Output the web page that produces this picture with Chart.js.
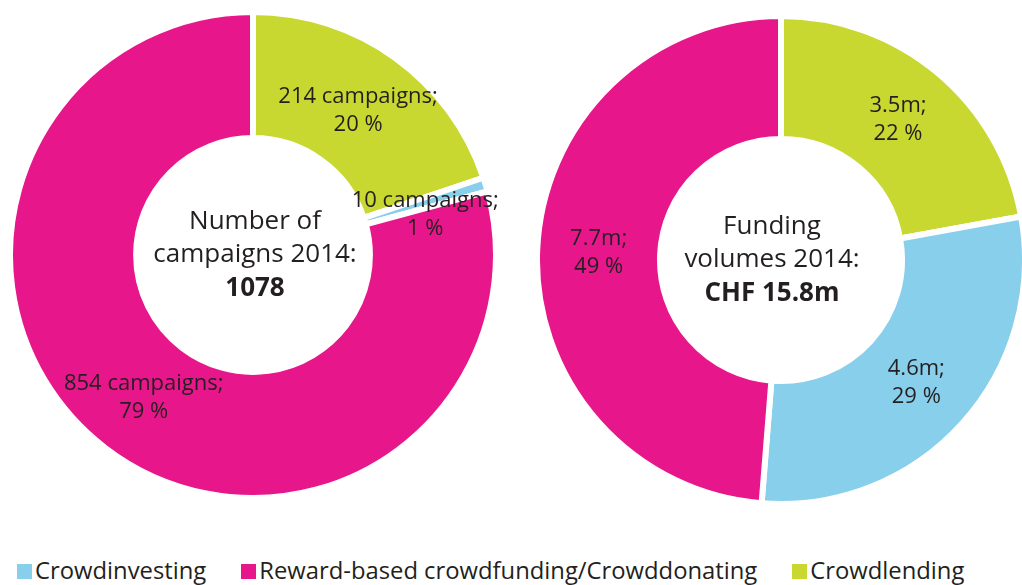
<!DOCTYPE html>
<html>
<head>
<meta charset="utf-8">
<script src="https://cdn.jsdelivr.net/npm/chart.js@4.4.1/dist/chart.umd.min.js"></script>
<style>
  html, body { margin: 0; padding: 0; background: #fff; overflow: hidden; }
  body { width: 1022px; height: 585px; position: relative; font-family: 'Open Sans', sans-serif; }
  #left { position: absolute; left: 7px; top: 9px; }
  #right { position: absolute; left: 534px; top: 13px; }
  #legend { position: absolute; left: 17px; top: 554px; display: flex; gap: 35px; color: #231f20; font-size: 23.8px; }
  #legend span.item { display: flex; align-items: center; white-space: nowrap; }
  #legend span.box { width: 15px; height: 15px; margin-right: 3px; margin-top: 3px; }
</style>
</head>
<body>
<canvas id="left" width="492" height="492"></canvas>
<canvas id="right" width="494" height="494"></canvas>
<div id="legend"></div>
<script>
// slices go clockwise from 12 o'clock in this order
const sliceNames = ['Crowdlending', 'Crowdinvesting', 'Reward-based crowdfunding/Crowddonating'];
const legendNames = ['Crowdinvesting', 'Reward-based crowdfunding/Crowddonating', 'Crowdlending'];

const campaigns = [214, 10, 854];
const campaignShares = [20, 1, 79];
const volumes = [3.5, 4.6, 7.7];
const volumeShares = [22, 29, 49];

const leftCenter = ['Number of', 'campaigns 2014:', '1078'];
const rightCenter = ['Funding', 'volumes 2014:', 'CHF 15.8m'];

const colors = {
  'Crowdinvesting': '#88cfec',
  'Reward-based crowdfunding/Crowddonating': '#e7168a',
  'Crowdlending': '#c9d831'
};
const textColor = '#231f20';

const sliceLabels = {
  id: 'sliceLabels',
  afterDatasetsDraw(chart, args, opts) {
    const ctx = chart.ctx;
    const meta = chart.getDatasetMeta(0);
    ctx.save();
    ctx.fillStyle = textColor;
    ctx.textAlign = 'center';
    ctx.textBaseline = 'middle';
    ctx.font = '22px "Open Sans"';
    meta.data.forEach((arc, i) => {
      const p = arc.getCenterPoint();
      const lines = opts.lines(i);
      const dy = (opts.dy && opts.dy[i]) || 0;
      ctx.fillText(lines[0], p.x, p.y - 14 + dy);
      ctx.fillText(lines[1], p.x, p.y + 14 + dy);
    });

    // text in the hole
    const c = meta.data[0];
    const cx = c.x + (opts.centerDx || 0);
    const cy = c.y;
    const t = opts.center;
    ctx.font = '26px "Open Sans"';
    ctx.fillText(t[0], cx, cy - 33);
    ctx.fillText(t[1], cx, cy);
    ctx.font = 'bold 26px "Open Sans"';
    ctx.fillText(t[2], cx, cy + 34);
    ctx.restore();
  }
};

function makeChart(id, values, cutout, labelPlugin) {
  return new Chart(document.getElementById(id), {
    type: 'doughnut',
    data: {
      labels: sliceNames,
      datasets: [{
        data: values,
        backgroundColor: sliceNames.map(n => colors[n]),
        borderColor: '#ffffff',
        borderWidth: 6,
        hoverOffset: 0
      }]
    },
    options: {
      responsive: false,
      animation: false,
      cutout: cutout,
      layout: { padding: 0 },
      plugins: {
        legend: { display: false },
        tooltip: { enabled: false },
        sliceLabels: labelPlugin
      }
    },
    plugins: [sliceLabels]
  });
}

makeChart('left', campaigns, '48.1%', {
  lines: i => [campaigns[i] + ' campaigns;', campaignShares[i] + ' %'],
  dy: [2, 12, 0],
  center: leftCenter,
  centerDx: 2
});

makeChart('right', volumes, '49.6%', {
  lines: i => [volumes[i] + 'm;', volumeShares[i] + ' %'],
  center: rightCenter,
  centerDx: -9
});

// legend below both charts
const legend = document.getElementById('legend');
legendNames.forEach(n => {
  const item = document.createElement('span');
  item.className = 'item';
  const box = document.createElement('span');
  box.className = 'box';
  box.style.background = colors[n];
  item.appendChild(box);
  item.appendChild(document.createTextNode(n));
  legend.appendChild(item);
});
</script>
</body>
</html>
